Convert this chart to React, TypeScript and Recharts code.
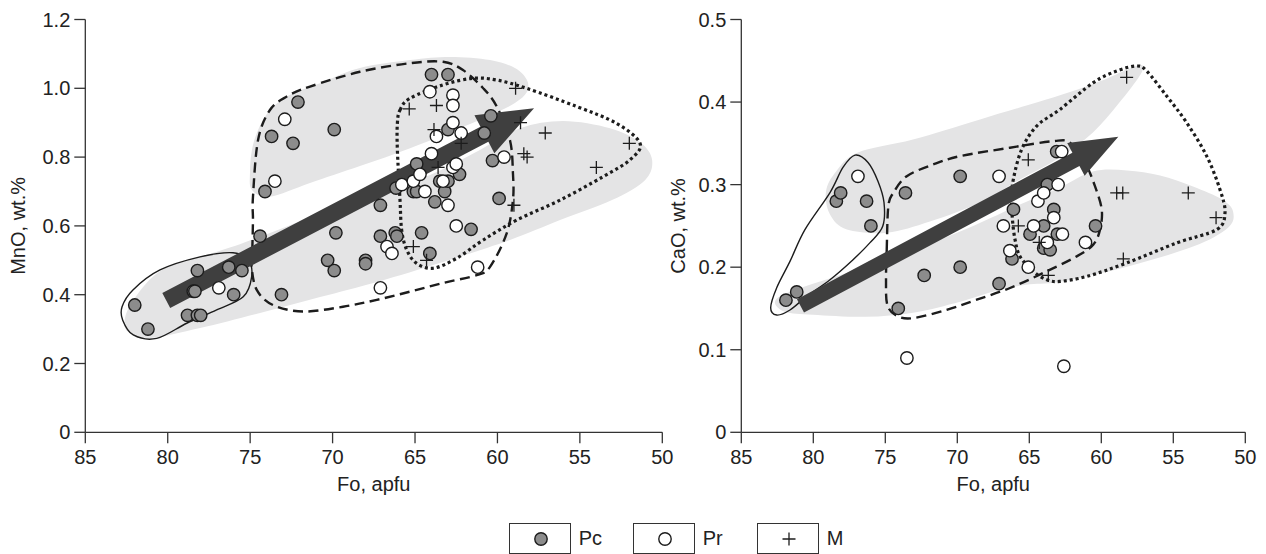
import { Label, Scatter, ScatterChart, XAxis, YAxis } from 'recharts';

const FONT = '"Liberation Sans", Arial, Helvetica, sans-serif';
const INK = '#1c1c1c';

type Pt = [number, number];

// ---- Fo vs MnO ----
const mnoPc: Pt[] = [
  [82.0, 0.37], [81.2, 0.3], [78.2, 0.47], [78.45, 0.41], [78.35, 0.41], [78.8, 0.34], [78.2, 0.34], [78.0, 0.34],
  [76.3, 0.48], [76.0, 0.4], [75.5, 0.47], [74.4, 0.57], [74.1, 0.7], [73.7, 0.86], [73.1, 0.4], [72.4, 0.84],
  [72.1, 0.96], [70.3, 0.5], [69.9, 0.47], [69.9, 0.88], [69.8, 0.58], [68.0, 0.5], [68.0, 0.49], [67.1, 0.57],
  [67.1, 0.66], [66.2, 0.58], [66.1, 0.57], [66.15, 0.71], [65.1, 0.7], [64.9, 0.7], [64.9, 0.78], [64.6, 0.58],
  [64.1, 0.52], [64.0, 1.04], [63.8, 0.67], [63.5, 0.73], [63.2, 0.7], [63.0, 0.73], [63.0, 1.04], [63.0, 0.88],
  [62.3, 0.75], [61.6, 0.59], [60.8, 0.87], [60.4, 0.92], [60.3, 0.79], [59.9, 0.68],
];
const mnoPr: Pt[] = [
  [76.9, 0.42], [73.5, 0.73], [72.9, 0.91], [67.1, 0.42], [66.7, 0.54], [66.4, 0.52], [65.8, 0.72], [65.1, 0.73],
  [64.7, 0.75], [64.4, 0.7], [64.1, 0.99], [64.0, 0.81], [63.7, 0.86], [63.3, 0.73], [63.0, 0.66], [62.7, 0.98],
  [62.7, 0.95], [62.7, 0.9], [62.7, 0.77], [62.5, 0.78], [62.5, 0.6], [62.2, 0.87], [61.2, 0.48], [59.6, 0.8],
];
const mnoM: Pt[] = [
  [65.35, 0.94], [65.1, 0.54], [64.3, 0.5], [63.85, 0.88], [63.7, 0.95], [63.6, 0.77], [62.2, 0.84], [59.0, 0.66],
  [58.9, 1.0], [58.6, 0.9], [58.4, 0.81], [58.2, 0.8], [57.1, 0.87], [54.0, 0.77], [52.0, 0.84],
];

// ---- Fo vs CaO ----
const caoPc: Pt[] = [
  [81.9, 0.16], [81.15, 0.17], [78.4, 0.28], [78.1, 0.29], [76.3, 0.28], [76.0, 0.25], [74.1, 0.15], [73.6, 0.29],
  [72.3, 0.19], [69.8, 0.2], [69.8, 0.31], [67.1, 0.18], [66.2, 0.21], [66.1, 0.27], [64.95, 0.24], [64.0, 0.25],
  [64.0, 0.223], [63.55, 0.221], [63.75, 0.3], [63.3, 0.27], [63.1, 0.34], [63.05, 0.24], [60.4, 0.25],
];
const caoPr: Pt[] = [
  [76.9, 0.31], [73.5, 0.09], [67.1, 0.31], [66.8, 0.25], [66.35, 0.22], [65.07, 0.2], [64.7, 0.25], [64.4, 0.28],
  [64.0, 0.29], [63.75, 0.23], [63.3, 0.26], [63.0, 0.3], [62.75, 0.34], [62.7, 0.24], [62.6, 0.08], [61.1, 0.23],
];
const caoM: Pt[] = [
  [65.76, 0.25], [65.07, 0.33], [64.31, 0.23], [63.68, 0.19], [58.93, 0.29], [58.51, 0.29], [58.47, 0.21],
  [58.24, 0.43], [53.96, 0.29], [52.03, 0.26],
];

const foTicks = [85, 80, 75, 70, 65, 60, 55, 50];
const mnoTicks = [0, 0.2, 0.4, 0.6, 0.8, 1.0, 1.2];
const caoTicks = [0, 0.1, 0.2, 0.3, 0.4, 0.5];

// Shaded trends and field outlines (Fo, oxide) – closed, smoothed through the vertices
const mnoBandUpper: Pt[] = [
  [74.89, 0.704], [75.01, 0.757], [74.89, 0.821], [74.52, 0.879], [73.8, 0.937], [72.58, 0.981], [70.76, 1.015],
  [68.34, 1.059], [65.3, 1.082], [62.88, 1.091], [60.45, 1.082], [58.94, 1.059], [58.21, 1.024], [58.21, 0.989],
  [58.94, 0.957], [60.15, 0.928], [62.27, 0.884], [65.3, 0.826], [68.34, 0.774], [71.37, 0.725], [73.8, 0.685],
];
const mnoBandLower: Pt[] = [
  [82.59, 0.332], [81.99, 0.391], [80.47, 0.468], [78.04, 0.51], [75.62, 0.547], [72.58, 0.602], [70.16, 0.646],
  [67.12, 0.695], [64.09, 0.748], [61.06, 0.821], [58.63, 0.884], [56.02, 0.905], [53.17, 0.884], [51.35, 0.843],
  [50.62, 0.792], [51.05, 0.733], [53.05, 0.675], [56.2, 0.617], [59.24, 0.559], [63.3, 0.495], [67.3, 0.437],
  [70.76, 0.393], [74.4, 0.347], [78.04, 0.303], [81.07, 0.274], [82.41, 0.292],
];
const mnoPcField: Pt[] = [
  [82.77, 0.365], [82.11, 0.414], [80.47, 0.472], [78.04, 0.51], [76.04, 0.522], [75.11, 0.501], [74.91, 0.452],
  [75.42, 0.394], [77.03, 0.356], [78.85, 0.317], [80.67, 0.273], [82.09, 0.283], [82.73, 0.326],
];
const mnoPrField: Pt[] = [
  [74.87, 0.53], [74.83, 0.617], [74.83, 0.684], [74.52, 0.85], [73.8, 0.937], [72.78, 0.976], [71.37, 1.005],
  [68.34, 1.048], [65.3, 1.073], [63.3, 1.077], [62.09, 1.053], [60.88, 1.001], [60.04, 0.947], [59.24, 0.849],
  [59.06, 0.753], [59.06, 0.675], [59.44, 0.578], [60.45, 0.481], [61.26, 0.457], [63.3, 0.434], [65.3, 0.409],
  [67.32, 0.385], [69.37, 0.365], [71.8, 0.351], [73.62, 0.37], [74.6, 0.414], [74.91, 0.481],
];
const mnoMField: Pt[] = [
  [65.91, 0.937], [65.3, 0.971], [63.3, 1.01], [61.48, 1.029], [60.05, 1.024], [58.23, 1.0], [55.19, 0.947],
  [52.77, 0.898], [51.35, 0.84], [51.96, 0.792], [53.6, 0.743], [56.2, 0.675], [58.83, 0.617], [60.86, 0.559],
  [62.47, 0.506], [63.89, 0.477], [64.9, 0.491], [65.5, 0.53], [65.81, 0.588], [65.91, 0.675], [66.07, 0.821],
  [66.07, 0.898],
];
const mnoTrend: Pt[] = [[80.09, 0.383], [57.78, 0.942]];

const caoBandUpper: Pt[] = [
  [79.12, 0.2916], [78.42, 0.3159], [76.9, 0.339], [73.08, 0.3547], [68.42, 0.379], [62.87, 0.4081], [60.09, 0.4251],
  [58.15, 0.4397], [57.17, 0.4445], [57.31, 0.4324], [58.84, 0.3972], [60.58, 0.3632], [62.87, 0.3329],
  [65.65, 0.3062], [68.42, 0.2783], [71.9, 0.2552], [74.88, 0.2418], [77.66, 0.2455], [78.84, 0.2637],
];
const caoBandLower: Pt[] = [
  [82.66, 0.1582], [81.62, 0.1703], [77.66, 0.1934], [73.98, 0.2153], [69.81, 0.2431], [65.65, 0.2759],
  [62.87, 0.2966], [60.58, 0.316], [58.22, 0.3172], [55.92, 0.3111], [53.63, 0.2977], [51.62, 0.282],
  [50.85, 0.2674], [51.2, 0.2479], [53.63, 0.2249], [58.22, 0.2006], [62.87, 0.1824], [65.23, 0.1788],
  [67.52, 0.1703], [69.81, 0.1582], [73.08, 0.1448], [76.34, 0.1399], [80.02, 0.1424], [81.97, 0.146],
];
const caoPcField: Pt[] = [
  [77.1, 0.3357], [76.2, 0.3268], [75.51, 0.3041], [75.09, 0.2783], [75.18, 0.2495], [76.06, 0.2297],
  [77.24, 0.2091], [78.84, 0.1848], [80.46, 0.1646], [81.62, 0.1481], [82.54, 0.142], [82.96, 0.1508],
  [82.54, 0.1751], [81.62, 0.207], [80.58, 0.2455], [78.84, 0.2904], [77.94, 0.3208],
];
const caoPrField: Pt[] = [
  [74.9, 0.2213], [74.79, 0.2738], [74.44, 0.29], [73.51, 0.3102], [71.67, 0.3244], [69.81, 0.3345],
  [66.34, 0.3447], [63.33, 0.3527], [62.17, 0.3507], [61.13, 0.3265], [60.44, 0.2981], [59.97, 0.2698],
  [60.09, 0.2455], [60.56, 0.2273], [61.71, 0.2131], [64.03, 0.193], [66.34, 0.1748], [68.65, 0.1606],
  [70.74, 0.1484], [73.06, 0.1383], [74.21, 0.1411], [74.86, 0.1545], [74.95, 0.1848],
];
const caoMField: Pt[] = [
  [66.22, 0.2819], [66.11, 0.3062], [65.53, 0.3426], [64.49, 0.3709], [62.87, 0.3911], [60.56, 0.4235],
  [58.93, 0.4376], [57.54, 0.4437], [56.85, 0.4376], [55.46, 0.4073], [54.07, 0.375], [52.68, 0.3345],
  [51.76, 0.2941], [51.41, 0.2658], [51.99, 0.2455], [54.76, 0.2294], [58.24, 0.2051], [61.01, 0.1888],
  [62.87, 0.1828], [63.79, 0.1848], [64.72, 0.1949], [65.65, 0.2131], [65.99, 0.2334], [66.17, 0.2576],
];
const caoTrend: Pt[] = [[80.89, 0.153], [58.82, 0.358]];

const toXY = (pts: Pt[]) => pts.map(([x, y]) => ({ x, y }));

// closed Catmull-Rom spline through pixel points
function closedPath(pts: { x: number; y: number }[]) {
  const n = pts.length;
  let d = `M${pts[0].x},${pts[0].y}`;
  for (let i = 0; i < n; i++) {
    const p0 = pts[(i - 1 + n) % n];
    const p1 = pts[i];
    const p2 = pts[(i + 1) % n];
    const p3 = pts[(i + 2) % n];
    const c1x = p1.x + (p2.x - p0.x) / 6;
    const c1y = p1.y + (p2.y - p0.y) / 6;
    const c2x = p2.x - (p3.x - p1.x) / 6;
    const c2y = p2.y - (p3.y - p1.y) / 6;
    d += `C${c1x},${c1y} ${c2x},${c2y} ${p2.x},${p2.y}`;
  }
  return d + 'Z';
}

const fieldLine = (style: Record<string, any>) => (props: any) =>
  <path d={closedPath(props.points)} {...style} />;

const arrowLine = (shaft: number, headLen: number, headW: number) => (props: any) => {
  const [a, b] = props.points;
  const dx = b.x - a.x;
  const dy = b.y - a.y;
  const len = Math.hypot(dx, dy);
  const ux = dx / len, uy = dy / len;
  const nx = -uy, ny = ux;
  const bx = b.x - ux * headLen, by = b.y - uy * headLen;
  const p = (x: number, y: number, k: number) => `${x + nx * k},${y + ny * k}`;
  const pts = [
    p(a.x, a.y, shaft / 2), p(bx, by, shaft / 2), p(bx, by, headW / 2), `${b.x},${b.y}`,
    p(bx, by, -headW / 2), p(bx, by, -shaft / 2), p(a.x, a.y, -shaft / 2),
  ].join(' ');
  return <polygon points={pts} fill="#3f3f3f" />;
};

const Hidden = () => <g />;
const PcDot = (p: any) => <circle cx={p.cx} cy={p.cy} r={6.2} fill="#8c8c8c" stroke={INK} strokeWidth={1.4} />;
const PrDot = (p: any) => <circle cx={p.cx} cy={p.cy} r={6.2} fill="#ffffff" stroke={INK} strokeWidth={1.4} />;
const MCross = (p: any) => (
  <path d={`M${p.cx - 6.5},${p.cy}H${p.cx + 6.5}M${p.cx},${p.cy - 6.5}V${p.cy + 6.5}`} stroke={INK} strokeWidth={1.3} fill="none" />
);

const bandStyle = { fill: '#e4e4e5', stroke: 'none' };
const solidStyle = { fill: 'none', stroke: INK, strokeWidth: 1.4 };
const dashStyle = { fill: 'none', stroke: INK, strokeWidth: 2.4, strokeDasharray: '10 5.5' };
const dotStyle = { fill: 'none', stroke: INK, strokeWidth: 3.2, strokeDasharray: '3 3' };

const axisStroke = { stroke: '#333', strokeWidth: 1.3 };
const tickStyle = { fill: '#222', fontSize: 20, fontFamily: FONT };

interface PanelProps {
  left: number;
  width: number;
  yWidth: number;
  right: number;
  yMax: number;
  yTicks: number[];
  yTitle: string;
  yTitleOffset: number;
  bands: Pt[][];
  pcField: Pt[];
  prField: Pt[];
  mField: Pt[];
  trend: Pt[];
  arrow: [number, number, number];
  pc: Pt[];
  pr: Pt[];
  m: Pt[];
}

function Panel(props: PanelProps) {
  const height = 500;
  return (
    <div style={{ position: 'absolute', left: props.left, top: 0, width: props.width, height }}>
      <ScatterChart
        width={props.width}
        height={height}
        margin={{ top: 19.5, right: props.right, bottom: 0, left: 0 }}
        style={{ fontFamily: FONT }}
      >
        <XAxis
          type="number"
          dataKey="x"
          domain={[50, 85]}
          reversed
          ticks={foTicks}
          interval={0}
          height={67.7}
          axisLine={axisStroke}
          tickLine={axisStroke}
          tickSize={11}
          tickMargin={6}
          tick={tickStyle}
        >
          <Label value="Fo, apfu" position="insideBottom" offset={9} fill="#222" fontSize={20} fontFamily={FONT} />
        </XAxis>
        <YAxis
          type="number"
          dataKey="y"
          domain={[0, props.yMax]}
          ticks={props.yTicks}
          interval={0}
          width={props.yWidth}
          axisLine={axisStroke}
          tickLine={axisStroke}
          tickSize={11}
          tickMargin={4}
          tick={tickStyle}
          tickFormatter={(v: number) => (v === 0 ? '0' : v.toFixed(1))}
        >
          <Label
            value={props.yTitle}
            angle={-90}
            position="insideLeft"
            offset={props.yTitleOffset}
            fill="#222"
            fontSize={20}
            fontFamily={FONT}
            style={{ textAnchor: 'middle' }}
          />
        </YAxis>
        {props.bands.map((b, i) => (
          <Scatter key={`band${i}`} data={toXY(b)} shape={Hidden} line={fieldLine(bandStyle)} legendType="none" isAnimationActive={false} />
        ))}
        <Scatter data={toXY(props.pcField)} shape={Hidden} line={fieldLine(solidStyle)} legendType="none" isAnimationActive={false} />
        <Scatter data={toXY(props.prField)} shape={Hidden} line={fieldLine(dashStyle)} legendType="none" isAnimationActive={false} />
        <Scatter data={toXY(props.mField)} shape={Hidden} line={fieldLine(dotStyle)} legendType="none" isAnimationActive={false} />
        <Scatter data={toXY(props.trend)} shape={Hidden} line={arrowLine(...props.arrow)} legendType="none" isAnimationActive={false} />
        <Scatter name="Pc" data={toXY(props.pc)} shape={PcDot} isAnimationActive={false} />
        <Scatter name="Pr" data={toXY(props.pr)} shape={PrDot} isAnimationActive={false} />
        <Scatter name="M" data={toXY(props.m)} shape={MCross} isAnimationActive={false} />
      </ScatterChart>
    </div>
  );
}

const legendItems = [
  { name: 'Pc', box: 509.3, text: 578.7 },
  { name: 'Pr', box: 633.3, text: 702.7 },
  { name: 'M', box: 756.7, text: 826.7 },
];

function LegendSymbol({ name }: { name: string }) {
  return (
    <svg width={60} height={29} style={{ display: 'block' }}>
      {name === 'Pc' && <circle cx={31} cy={15} r={6.2} fill="#8c8c8c" stroke={INK} strokeWidth={1.4} />}
      {name === 'Pr' && <circle cx={31} cy={15} r={6.2} fill="#fff" stroke={INK} strokeWidth={1.4} />}
      {name === 'M' && <path d="M24.5,15H37.5M31,8.5V21.5" stroke={INK} strokeWidth={1.3} />}
    </svg>
  );
}

export default function App() {
  return (
    <div style={{ position: 'absolute', left: 0, top: 0, width: 1266, height: 554, background: '#fff', fontFamily: FONT, overflow: 'hidden' }}>
      <Panel
        left={0}
        width={680}
        yWidth={85.3}
        right={17.7}
        yMax={1.2}
        yTicks={mnoTicks}
        yTitle="MnO, wt.%"
        yTitleOffset={17.5}
        bands={[mnoBandUpper, mnoBandLower]}
        pcField={mnoPcField}
        prField={mnoPrField}
        mField={mnoMField}
        trend={mnoTrend}
        arrow={[17, 56, 43]}
        pc={mnoPc}
        pr={mnoPr}
        m={mnoM}
      />
      <Panel
        left={650}
        width={616}
        yWidth={91.3}
        right={20.7}
        yMax={0.5}
        yTicks={caoTicks}
        yTitle="CaO, wt.%"
        yTitleOffset={27.5}
        bands={[caoBandUpper, caoBandLower]}
        pcField={caoPcField}
        prField={caoPrField}
        mField={caoMField}
        trend={caoTrend}
        arrow={[15, 48, 37]}
        pc={caoPc}
        pr={caoPr}
        m={caoM}
      />
      {legendItems.map((it) => (
        <div key={it.name}>
          <div
            style={{
              position: 'absolute', left: it.box, top: 522.7, width: 60, height: 29,
              border: '1.3px solid #333', boxSizing: 'content-box',
            }}
          >
            <LegendSymbol name={it.name} />
          </div>
          <div style={{ position: 'absolute', left: it.text, top: 527, fontSize: 20, lineHeight: '23px', color: '#222' }}>
            {it.name}
          </div>
        </div>
      ))}
    </div>
  );
}
